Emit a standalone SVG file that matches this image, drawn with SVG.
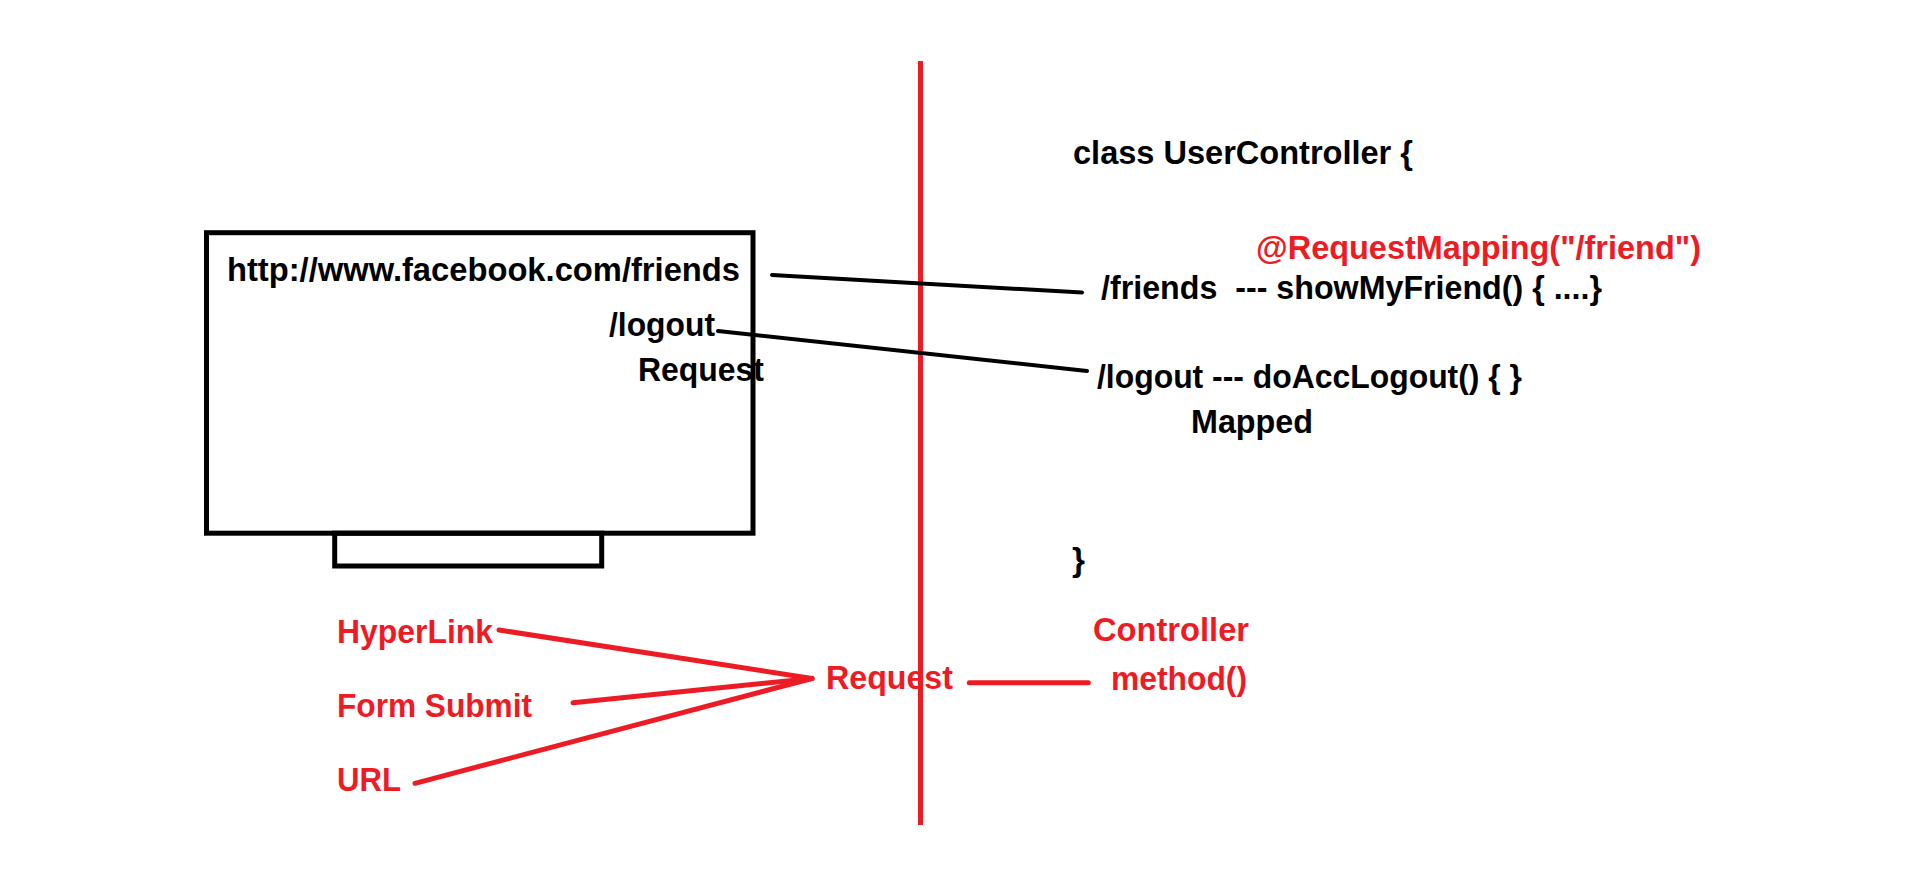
<svg xmlns="http://www.w3.org/2000/svg" width="1914" height="875" viewBox="0 0 1914 875">
<style>
text{font-family:"Liberation Sans",Arial,sans-serif;font-weight:bold;font-size:33.5px}
.k{fill:#000}
.r{fill:#ED1C24}
.bl{stroke:#000;stroke-width:4;stroke-linecap:round;fill:none}
.rl{stroke:#ED1C24;stroke-width:5;stroke-linecap:round;fill:none}
.box{fill:none;stroke:#000;stroke-width:5}
</style>
<rect width="1914" height="875" fill="#fff"/>
<g id="monitor">
<rect class="box" x="206.5" y="232.7" width="546.5" height="300.5"/>
<rect class="box" x="334.7" y="533.2" width="267" height="32.8"/>
</g>
<g id="divider">
<line x1="920.5" y1="61" x2="920.5" y2="825" stroke="#ED1C24" stroke-width="5"/>
</g>
<g id="connectors">
<line class="bl" x1="772" y1="275" x2="1082" y2="292.5"/>
<line class="bl" x1="718" y1="331" x2="1087" y2="371"/>
<line class="rl" x1="499" y1="630" x2="812" y2="678.5"/>
<line class="rl" x1="573" y1="702.7" x2="812" y2="678.5"/>
<line class="rl" x1="415" y1="783.3" x2="812" y2="678.5"/>
<line class="rl" x1="969.3" y1="682.7" x2="1088.3" y2="682.7"/>
</g>
<g id="url-text"><text class="k" x="227" y="281" textLength="513" lengthAdjust="spacingAndGlyphs">http://www.facebook.com/friends</text></g>
<g id="logout-link"><text class="k" x="609" y="336" textLength="106" lengthAdjust="spacingAndGlyphs">/logout</text></g>
<g id="request-label"><text class="k" x="638" y="381" textLength="126" lengthAdjust="spacingAndGlyphs">Request</text></g>
<g id="class-decl"><text class="k" x="1073" y="164" textLength="340" lengthAdjust="spacingAndGlyphs">class UserController {</text></g>
<g id="annotation"><text class="r" x="1256" y="259" textLength="445" lengthAdjust="spacingAndGlyphs">@RequestMapping("/friend")</text></g>
<g id="friends-method"><text class="k" x="1101" y="299" xml:space="preserve" textLength="501" lengthAdjust="spacingAndGlyphs">/friends  --- showMyFriend() { ....}</text></g>
<g id="logout-method"><text class="k" x="1097" y="388" textLength="425" lengthAdjust="spacingAndGlyphs">/logout --- doAccLogout() { }</text></g>
<g id="mapped-label"><text class="k" x="1191" y="433" textLength="122" lengthAdjust="spacingAndGlyphs">Mapped</text></g>
<g id="class-end"><text class="k" x="1072" y="571" textLength="13" lengthAdjust="spacingAndGlyphs">}</text></g>
<g id="hyperlink"><text class="r" x="337" y="642.5" textLength="156" lengthAdjust="spacingAndGlyphs">HyperLink</text></g>
<g id="form-submit"><text class="r" x="337" y="716.5" textLength="195" lengthAdjust="spacingAndGlyphs">Form Submit</text></g>
<g id="url"><text class="r" x="337" y="790.5" textLength="64" lengthAdjust="spacingAndGlyphs">URL</text></g>
<g id="request"><text class="r" x="826" y="689" textLength="127" lengthAdjust="spacingAndGlyphs">Request</text></g>
<g id="controller-method">
<text class="r" x="1093" y="640.5" textLength="156" lengthAdjust="spacingAndGlyphs">Controller</text>
<text class="r" x="1111" y="690" textLength="136" lengthAdjust="spacingAndGlyphs">method()</text>
</g>
</svg>
